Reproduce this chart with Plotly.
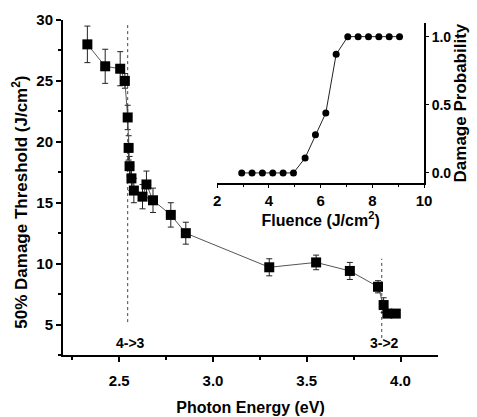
import plotly.graph_objects as go

# Main data: photon energy vs 50% damage threshold
energy = [2.33, 2.425, 2.505, 2.53, 2.545, 2.55, 2.555, 2.565, 2.578, 2.624, 2.645, 2.68,
          2.775, 2.855, 3.30, 3.55, 3.73, 3.88, 3.91, 3.93, 3.975]
threshold = [28.0, 26.2, 26.0, 25.0, 22.0, 19.5, 18.0, 17.0, 16.0, 15.5, 16.5, 15.2,
             14.0, 12.5, 9.7, 10.1, 9.4, 8.1, 6.6, 5.9, 5.9]
threshold_err = [1.5, 1.4, 1.4, 0.6, 1.0, 1.0, 0.8, 1.0, 1.0, 1.0, 1.1, 1.0,
                 1.0, 0.9, 0.7, 0.6, 0.7, 0.5, 0.6, 0.3, 0.3]

# Transition markers
transition_x = [2.545, 3.90]
transition_ylo = [5.2, 3.9]
transition_yhi = [29.7, 10.4]
transition_labels = ["4->3", "3->2"]

# Inset: fluence vs damage probability
fluence = [2.95, 3.35, 3.75, 4.15, 4.55, 4.95, 5.4, 5.8, 6.2, 6.6, 7.05, 7.45, 7.85, 8.25, 8.65, 9.05]
probability = [0, 0, 0, 0, 0, 0, 0.11, 0.28, 0.44, 0.87, 1, 1, 1, 1, 1, 1]

main_ticks = [2.5, 3.0, 3.5, 4.0]
main_ticklabels = ["2.5", "3.0", "3.5", "4.0"]
y_ticks = [5, 10, 15, 20, 25, 30]
inset_xticks = [2, 4, 6, 8, 10]
inset_yticks = [0.0, 0.5, 1.0]
inset_yticklabels = ["0.0", "0.5", "1.0"]

FONT = "Liberation Sans, Arial, sans-serif"

fig = go.Figure()

for i in range(len(transition_x)):
    fig.add_trace(go.Scatter(
        x=[transition_x[i], transition_x[i]], y=[transition_ylo[i], transition_yhi[i]],
        mode="lines", line=dict(color="#444", width=1, dash="dot"),
        showlegend=False, hoverinfo="skip"))

fig.add_trace(go.Scatter(
    x=energy, y=threshold, mode="lines+markers",
    line=dict(color="#555", width=1),
    marker=dict(symbol="square", size=10, color="black"),
    error_y=dict(type="data", array=threshold_err, color="#222", thickness=1, width=3),
    showlegend=False))

fig.add_trace(go.Scatter(
    x=fluence, y=probability, mode="lines+markers", xaxis="x2", yaxis="y2",
    line=dict(color="#222", width=1),
    marker=dict(symbol="circle", size=7, color="black"),
    showlegend=False))

for i in range(len(transition_x)):
    fig.add_annotation(x=transition_x[i], y=3.5, text=transition_labels[i], xshift=3,
                       showarrow=False, font=dict(size=14, family=FONT, color="black", weight="bold"))

# Main y-axis title (placed slightly below centre, as in the original)
fig.add_annotation(xref="paper", yref="paper", x=-0.117, y=0.455, textangle=-90,
                   text="50% Damage Threshold (J/cm<sup>2</sup>)", showarrow=False,
                   xanchor="center", yanchor="middle",
                   font=dict(size=17, family=FONT, color="black", weight="bold"))

fig.update_layout(
    width=477, height=417,
    margin=dict(l=63, r=39, t=20, b=62),
    paper_bgcolor="white", plot_bgcolor="white",
    font=dict(family=FONT, color="black", size=14, weight="bold"),
    xaxis=dict(
        range=[2.2, 4.2], tickvals=main_ticks, ticktext=main_ticklabels, automargin=False,
        showline=True, linecolor="black", linewidth=2, mirror=False,
        ticks="outside", ticklen=5, tickwidth=1.5, tickcolor="black", ticklabelstandoff=6,
        minor=dict(dtick=0.25, ticks="outside", ticklen=3, tickcolor="black"),
        showgrid=False, zeroline=False,
        title=dict(text="Photon Energy (eV)", font=dict(size=16, weight="bold"), standoff=14),
        tickfont=dict(size=15, weight="bold"),
    ),
    yaxis=dict(
        range=[2.5, 30], tickvals=y_ticks, automargin=False,
        showline=True, linecolor="black", linewidth=2, mirror=False,
        ticks="outside", ticklen=5, tickwidth=1.5, tickcolor="black",
        minor=dict(dtick=2.5, ticks="outside", ticklen=3, tickcolor="black"),
        showgrid=False, zeroline=False,
        tickfont=dict(size=15, weight="bold"),
    ),
    xaxis2=dict(
        domain=[0.411, 0.963], anchor="y2", range=[2, 10], tickvals=inset_xticks, automargin=False,
        showline=True, linecolor="black", linewidth=1.5,
        ticks="outside", ticklen=3, tickcolor="black",
        minor=dict(dtick=1, ticks="outside", ticklen=2, tickcolor="black"),
        showgrid=False, zeroline=False,
        title=dict(text="Fluence (J/cm<sup>2</sup>)", font=dict(size=16, weight="bold"), standoff=7),
        tickfont=dict(size=15, weight="bold"),
    ),
    yaxis2=dict(
        domain=[0.513, 0.991], anchor="x2", side="right", range=[-0.075, 1.1], automargin=False,
        tickvals=inset_yticks, ticktext=inset_yticklabels,
        showline=True, linecolor="black", linewidth=1.5,
        ticks="outside", ticklen=3, tickcolor="black",
        showgrid=False, zeroline=False,
        title=dict(text="Damage Probability", font=dict(size=17, weight="bold"), standoff=0),
        tickfont=dict(size=14, weight="bold"),
    ),
)

fig.write_html("out.html", config={"displayModeBar": False},
               post_script="document.body.style.margin='0';document.body.style.padding='0';")
